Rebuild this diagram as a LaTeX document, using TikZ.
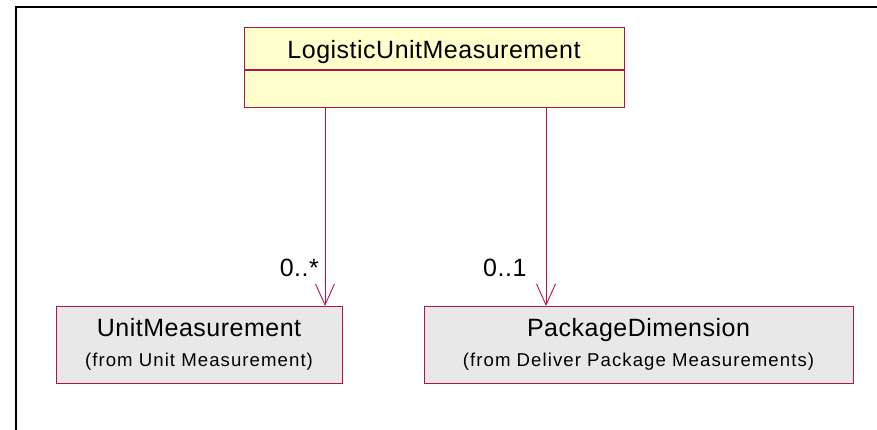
\documentclass[tikz,border=0pt]{standalone}
\usepackage{fontspec}
\setmainfont{Liberation Sans}
\newfontfamily\namefont[LetterSpace=2]{Liberation Sans}
\newfontfamily\subfont[LetterSpace=5.7]{Liberation Sans}
\usetikzlibrary{arrows.meta}
\definecolor{umlred}{RGB}{176,20,72}
\definecolor{umlyellow}{RGB}{255,255,204}
\definecolor{umlgray}{RGB}{232,232,232}
\begin{document}
\begin{tikzpicture}[x=1pt,y=-1pt,
  classbox/.style={draw=umlred,line width=1.1pt,anchor=north west,inner sep=0pt},
  nametext/.style={font=\namefont\fontsize{25}{30}\selectfont,anchor=base,inner sep=0pt},
  subtext/.style={font=\subfont\fontsize{18.6}{22}\selectfont,anchor=base,inner sep=0pt},
  multtext/.style={font=\namefont\fontsize{25}{30}\selectfont,inner sep=0pt},
  assoc/.style={draw=umlred,line width=0.9pt,-{Straight Barb[length=21pt,width=19pt,line width=0.9pt]}},
  frameline/.style={line width=2pt,black}]
\useasboundingbox (0,0) rectangle (877,430);
\draw[frameline] (16,431) -- (16,7) -- (878,7);
% top class
\node[classbox,fill=umlyellow,minimum width=380pt,minimum height=80pt] (top) at (244,27) {};
\draw[draw=umlred,line width=1.1pt] ([yshift=-43pt]top.north west) -- ([yshift=-43pt]top.north east);
\node[nametext] (topname) at (434,58.3) {LogisticUnitMeasurement};
% left class
\node[classbox,fill=umlgray,minimum width=286pt,minimum height=77pt] (left) at (56,306) {};
\node[nametext] (leftname) at (199,336.7) {UnitMeasurement};
\node[subtext] (leftsub) at (199,366.3) {(from Unit Measurement)};
% right class
\node[classbox,fill=umlgray,minimum width=429pt,minimum height=77pt] (right) at (424,306) {};
\node[nametext] (rightname) at (638.5,336.7) {PackageDimension};
\node[subtext] (rightsub) at (638.5,366.3) {(from Deliver Package Measurements)};
% associations
\draw[assoc] (top.south -| 325,0) -- (left.north -| 325,0);
\draw[assoc] (top.south -| 546,0) -- (right.north -| 546,0);
\node[multtext,anchor=base east] (m1) at (319,276) {0..*};
\node[multtext,anchor=base west] (m2) at (483,276) {0..1};
\end{tikzpicture}
\end{document}
